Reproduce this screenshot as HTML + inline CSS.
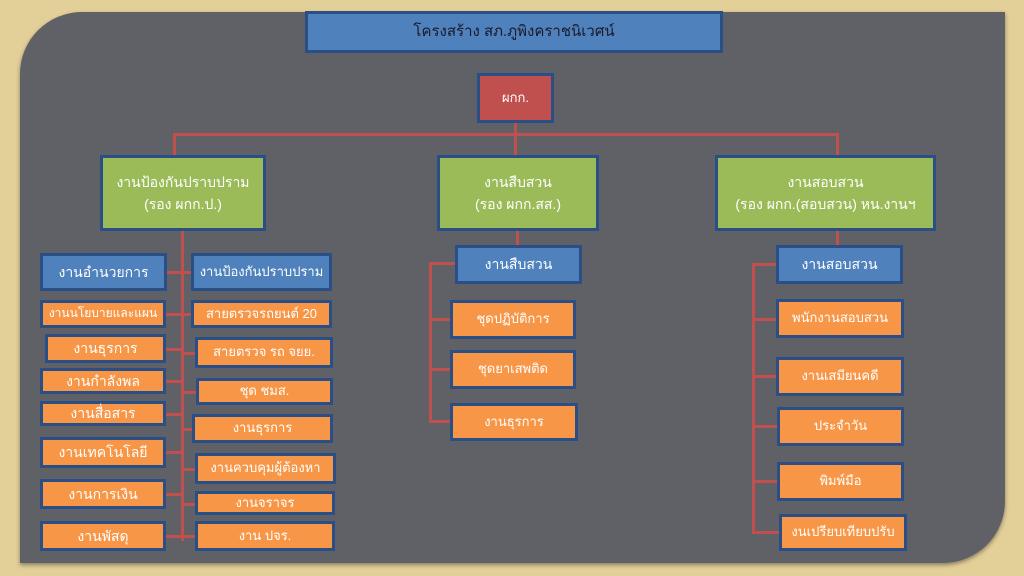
<!DOCTYPE html>
<html><head><meta charset="utf-8"><style>
*{margin:0;padding:0;box-sizing:border-box}
body{width:1024px;height:576px;overflow:hidden;background:#e3cf98;position:relative;font-family:"Liberation Sans","Noto Sans CJK SC",sans-serif}
.panel{position:absolute;left:20px;top:12px;width:985px;height:551px;background:#5f6167;border-radius:62px 0 62px 0;box-shadow:0 2px 4px rgba(0,0,0,.4)}
.b{position:absolute;display:flex;align-items:center;justify-content:center;text-align:center;color:#fff;border:3px solid #2a4f86;font-size:13px;line-height:1.6;white-space:nowrap}
.bl{background:#4f81bd}.g{background:#9bbb59;font-size:14px}.o{background:#f79646}.r{background:#c0504d}
.l{position:absolute;background:#c0504d}
</style></head><body>
<div class="panel"></div>
<!-- lines -->
<div class="l" style="left:514px;top:122px;width:3px;height:34px"></div>
<div class="l" style="left:173px;top:133px;width:666px;height:3px"></div>
<div class="l" style="left:173px;top:133px;width:3px;height:23px"></div>
<div class="l" style="left:836px;top:133px;width:3px;height:23px"></div>
<div class="l" style="left:181px;top:229px;width:3px;height:312px"></div>
<div class="l" style="left:516px;top:229px;width:3px;height:17px"></div>
<div class="l" style="left:836px;top:229px;width:3px;height:17px"></div>
<div class="l" style="left:429px;top:262px;width:3px;height:160px"></div>
<div class="l" style="left:429px;top:262px;width:27px;height:3px"></div>
<div class="l" style="left:429px;top:318px;width:22px;height:3px"></div>
<div class="l" style="left:429px;top:368px;width:22px;height:3px"></div>
<div class="l" style="left:429px;top:420px;width:22px;height:3px"></div>
<div class="l" style="left:752px;top:263px;width:3px;height:270px"></div>
<div class="l" style="left:752px;top:263px;width:25px;height:3px"></div>
<div class="l" style="left:752px;top:318px;width:25px;height:3px"></div>
<div class="l" style="left:752px;top:375px;width:25px;height:3px"></div>
<div class="l" style="left:752px;top:425px;width:25px;height:3px"></div>
<div class="l" style="left:752px;top:480px;width:25px;height:3px"></div>
<div class="l" style="left:752px;top:531px;width:28px;height:3px"></div>
<div class="l" style="left:166px;top:271px;width:26px;height:3px"></div>
<div class="l" style="left:166px;top:313px;width:26px;height:3px"></div>
<div class="l" style="left:166px;top:348px;width:16px;height:3px"></div>
<div class="l" style="left:182px;top:352px;width:14px;height:3px"></div>
<div class="l" style="left:166px;top:380px;width:16px;height:3px"></div>
<div class="l" style="left:182px;top:391px;width:14px;height:3px"></div>
<div class="l" style="left:166px;top:413px;width:16px;height:3px"></div>
<div class="l" style="left:182px;top:428px;width:14px;height:3px"></div>
<div class="l" style="left:166px;top:451px;width:16px;height:3px"></div>
<div class="l" style="left:182px;top:468px;width:14px;height:3px"></div>
<div class="l" style="left:166px;top:493px;width:16px;height:3px"></div>
<div class="l" style="left:182px;top:503px;width:14px;height:3px"></div>
<div class="l" style="left:166px;top:535px;width:30px;height:3px"></div>
<!-- boxes -->
<div class="b bl" style="left:305px;top:11px;width:418px;height:42px;color:#1a1a2a;font-size:15px">โครงสร้าง สภ.ภูพิงคราชนิเวศน์</div>
<div class="b r" style="left:477px;top:73px;width:77px;height:50px">ผกก.</div>
<div class="b g" style="left:100px;top:155px;width:166px;height:76px">งานป้องกันปราบปราม<br>(รอง ผกก.ป.)</div>
<div class="b g" style="left:437px;top:155px;width:162px;height:76px">งานสืบสวน<br>(รอง ผกก.สส.)</div>
<div class="b g" style="left:715px;top:155px;width:221px;height:76px">งานสอบสวน<br>(รอง ผกก.(สอบสวน) หน.งานฯ</div>
<div class="b bl" style="left:40px;top:253px;width:127px;height:38px;font-size:14px">งานอำนวยการ</div>
<div class="b bl" style="left:191px;top:253px;width:141px;height:38px">งานป้องกันปราบปราม</div>
<div class="b o" style="left:40px;top:300px;width:126px;height:28px;font-size:12px">งานนโยบายและแผน</div>
<div class="b o" style="left:45px;top:334px;width:121px;height:29px;font-size:14px">งานธุรการ</div>
<div class="b o" style="left:40px;top:368px;width:126px;height:26px;font-size:14px">งานกำลังพล</div>
<div class="b o" style="left:40px;top:401px;width:126px;height:25px;font-size:14px">งานสื่อสาร</div>
<div class="b o" style="left:40px;top:437px;width:126px;height:31px;font-size:14px">งานเทคโนโลยี</div>
<div class="b o" style="left:40px;top:479px;width:126px;height:30px;font-size:14px">งานการเงิน</div>
<div class="b o" style="left:40px;top:521px;width:126px;height:30px;font-size:14px">งานพัสดุ</div>
<div class="b o" style="left:191px;top:300px;width:141px;height:28px">สายตรวจรถยนต์ 20</div>
<div class="b o" style="left:195px;top:337px;width:138px;height:31px">สายตรวจ รถ จยย.</div>
<div class="b o" style="left:196px;top:378px;width:137px;height:27px">ชุด ชมส.</div>
<div class="b o" style="left:192px;top:414px;width:141px;height:29px">งานธุรการ</div>
<div class="b o" style="left:195px;top:453px;width:141px;height:31px">งานควบคุมผู้ต้องหา</div>
<div class="b o" style="left:195px;top:491px;width:140px;height:24px">งานจราจร</div>
<div class="b o" style="left:195px;top:521px;width:140px;height:30px">งาน ปจร.</div>
<div class="b bl" style="left:455px;top:245px;width:127px;height:39px;font-size:14px">งานสืบสวน</div>
<div class="b o" style="left:450px;top:300px;width:126px;height:39px">ชุดปฏิบัติการ</div>
<div class="b o" style="left:450px;top:350px;width:126px;height:39px">ชุดยาเสพติด</div>
<div class="b o" style="left:450px;top:403px;width:128px;height:38px">งานธุรการ</div>
<div class="b bl" style="left:776px;top:245px;width:127px;height:39px;font-size:14px">งานสอบสวน</div>
<div class="b o" style="left:776px;top:299px;width:128px;height:39px">พนักงานสอบสวน</div>
<div class="b o" style="left:776px;top:357px;width:128px;height:39px">งานเสมียนคดี</div>
<div class="b o" style="left:777px;top:407px;width:127px;height:39px">ประจำวัน</div>
<div class="b o" style="left:777px;top:462px;width:127px;height:39px">พิมพ์มือ</div>
<div class="b o" style="left:779px;top:514px;width:128px;height:37px">งนเปรียบเทียบปรับ</div>
</body></html>
